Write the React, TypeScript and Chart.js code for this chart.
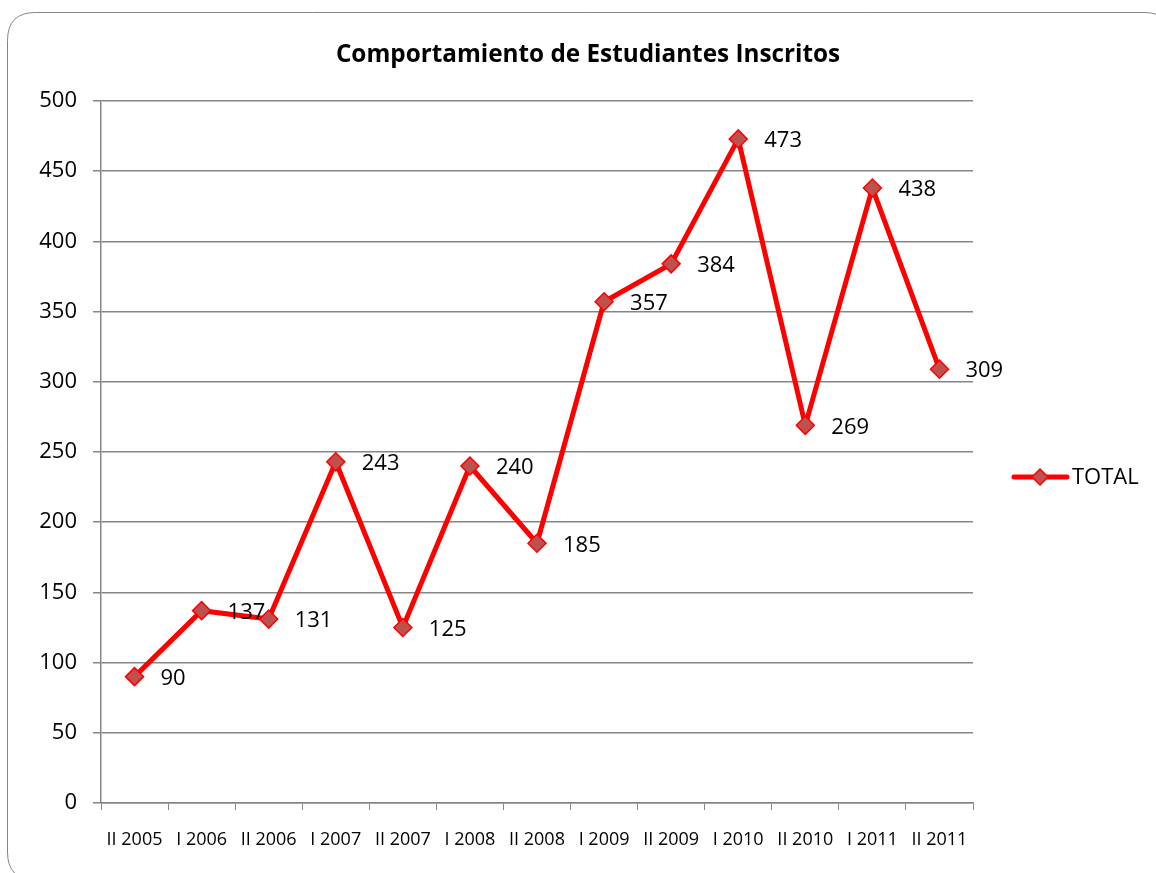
import React, { useEffect, useRef } from "react";
import { Chart, registerables } from "chart.js";

Chart.register(...registerables);

const categories = [
  "II 2005", "I 2006", "II 2006", "I 2007", "II 2007", "I 2008", "II 2008",
  "I 2009", "II 2009", "I 2010", "II 2010", "I 2011", "II 2011",
];
const totalValues = [90, 137, 131, 243, 125, 240, 185, 357, 384, 473, 269, 438, 309];
const seriesName = "TOTAL";
const chartTitle = "Comportamiento de Estudiantes Inscritos";
const yMin = 0;
const yMax = 500;
const yStep = 50;

const FONT = "'Open Sans', 'Liberation Sans', sans-serif";
const GRID = "#868686";
const LINE = "#FF0000";
const MARKER = "#C0504D";

const decorPlugin = {
  id: "decor",
  beforeDraw(chart: any) {
    const ctx = chart.ctx;
    ctx.save();
    ctx.fillStyle = "#ffffff";
    ctx.fillRect(0, 0, chart.width, chart.height);
    const x0 = 7.5, y0 = 12.5, x1 = chart.width + 16, y1 = chart.height + 7, r = 28;
    ctx.beginPath();
    ctx.moveTo(x0 + r, y0);
    ctx.lineTo(x1 - r, y0);
    ctx.quadraticCurveTo(x1, y0, x1, y0 + r);
    ctx.lineTo(x1, y1 - r);
    ctx.quadraticCurveTo(x1, y1, x1 - r, y1);
    ctx.lineTo(x0 + r, y1);
    ctx.quadraticCurveTo(x0, y1, x0, y1 - r);
    ctx.lineTo(x0, y0 + r);
    ctx.quadraticCurveTo(x0, y0, x0 + r, y0);
    ctx.closePath();
    ctx.strokeStyle = GRID;
    ctx.lineWidth = 1;
    ctx.stroke();
    ctx.restore();
  },
  afterDatasetsDraw(chart: any) {
    const ctx = chart.ctx;
    const meta = chart.getDatasetMeta(0);
    const data = chart.data.datasets[0].data;
    ctx.save();
    ctx.font = `22px ${FONT}`;
    ctx.fillStyle = "#000000";
    ctx.textAlign = "left";
    ctx.textBaseline = "middle";
    meta.data.forEach((pt: any, i: number) => {
      ctx.fillText(String(data[i]), pt.x + 26, pt.y + 2);
    });
    ctx.restore();
  },
  afterDraw(chart: any) {
    const ctx = chart.ctx;
    ctx.save();
    ctx.font = `bold 24.3px ${FONT}`;
    ctx.fillStyle = "#000000";
    ctx.textAlign = "center";
    ctx.textBaseline = "middle";
    ctx.fillText(chartTitle, 588, 55);
    const ly = 477;
    ctx.strokeStyle = LINE;
    ctx.lineWidth = 5;
    ctx.lineCap = "round";
    ctx.beginPath();
    ctx.moveTo(1014, ly);
    ctx.lineTo(1067, ly);
    ctx.stroke();
    const r = 8;
    ctx.beginPath();
    ctx.moveTo(1040, ly - r);
    ctx.lineTo(1040 + r, ly);
    ctx.lineTo(1040, ly + r);
    ctx.lineTo(1040 - r, ly);
    ctx.closePath();
    ctx.fillStyle = MARKER;
    ctx.fill();
    ctx.lineWidth = 1.5;
    ctx.stroke();
    ctx.font = `22px ${FONT}`;
    ctx.fillStyle = "#000000";
    ctx.textAlign = "left";
    ctx.fillText(seriesName, 1072, ly + 1);
    ctx.restore();
  },
};

export default function App() {
  const ref = useRef<HTMLCanvasElement | null>(null);
  useEffect(() => {
    document.body.style.margin = "0";
    const canvas = ref.current!;
    const chart = new Chart(canvas, {
      type: "line",
      data: {
        labels: categories,
        datasets: [
          {
            label: seriesName,
            data: totalValues,
            borderColor: LINE,
            borderWidth: 5,
            backgroundColor: MARKER,
            pointStyle: "rectRot",
            pointRadius: 9,
            pointBorderColor: LINE,
            pointBackgroundColor: MARKER,
            pointBorderWidth: 1.5,
            tension: 0,
            fill: false,
          },
        ],
      },
      options: {
        animation: false,
        responsive: false,
        maintainAspectRatio: false,
        layout: { padding: { top: 101, right: 183, bottom: 0, left: 0 } },
        plugins: {
          legend: { display: false },
          title: { display: false },
          tooltip: { enabled: false },
        },
        scales: {
          x: {
            type: "category",
            offset: true,
            afterFit: (s: any) => { s.height = 70; },
            grid: {
              offset: true,
              drawOnChartArea: false,
              drawTicks: true,
              tickLength: 7,
              color: GRID,
              lineWidth: 1,
            },
            border: { color: GRID, width: 1.5 },
            ticks: {
              color: "#000000",
              font: { family: FONT, size: 18 },
              padding: 19,
              maxRotation: 0,
              autoSkip: false,
            },
          },
          y: {
            min: yMin,
            max: yMax,
            afterFit: (s: any) => { s.width = 101; },
            ticks: {
              stepSize: yStep,
              color: "#000000",
              font: { family: FONT, size: 22 },
              padding: 16,
            },
            grid: { color: GRID, lineWidth: 1.5, tickLength: 8 },
            border: { color: GRID, width: 1.5 },
          },
        },
      },
      plugins: [decorPlugin],
    });
    return () => chart.destroy();
  }, []);
  return <canvas ref={ref} width={1156} height={873} style={{ display: "block" }} />;
}
